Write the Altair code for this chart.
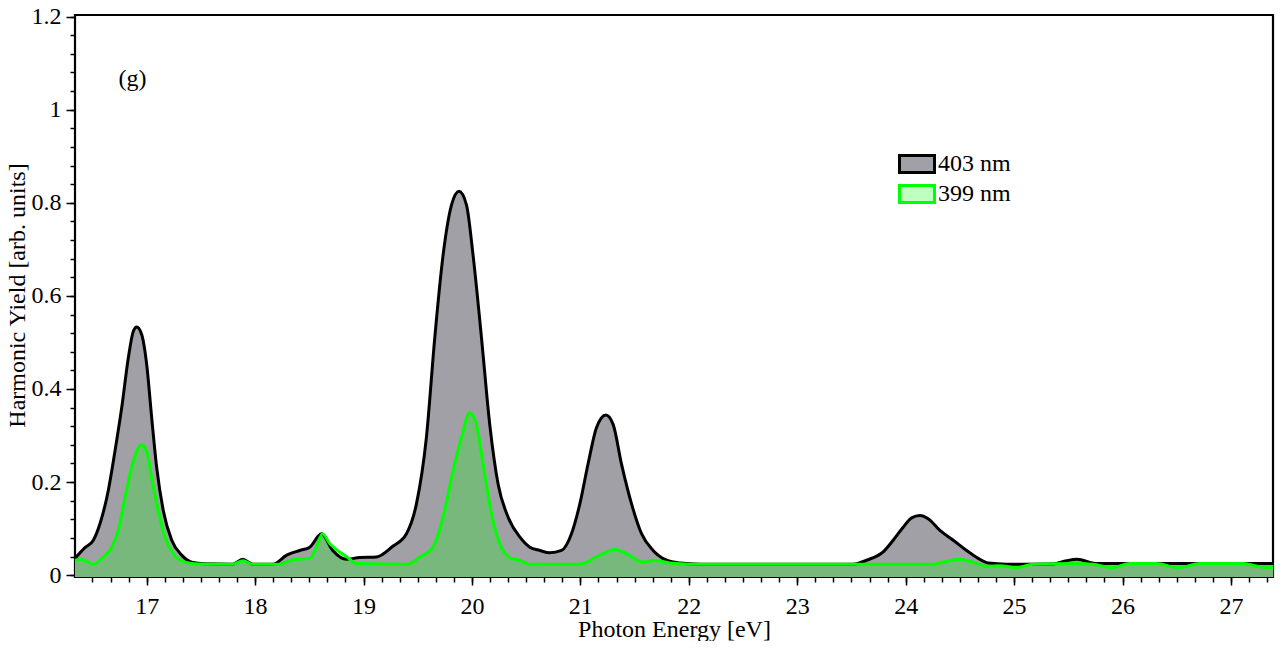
import altair as alt
import pandas as pd

# 403 nm series (photon energy [eV], yield)
x403 = [16.339, 16.431, 16.508, 16.570, 16.646, 16.708, 16.770, 16.831, 16.877, 16.908,
        16.954, 17.000, 17.046, 17.092, 17.153, 17.231, 17.323, 17.415, 17.538, 17.794,
        17.886, 17.978, 18.163, 18.292, 18.412, 18.504, 18.612, 18.716, 18.843, 18.965,
        19.119, 19.270, 19.396, 19.488, 19.580, 19.657, 19.734, 19.811, 19.881, 19.950,
        20.010, 20.088, 20.164, 20.241, 20.333, 20.441, 20.534, 20.626, 20.718, 20.826,
        20.918, 20.995, 21.071, 21.149, 21.235, 21.302, 21.379, 21.472, 21.564, 21.671,
        21.795, 21.917, 22.102, 23.516, 23.639, 23.793, 23.885, 23.977, 24.055, 24.131,
        24.208, 24.316, 24.439, 24.562, 24.669, 24.761, 24.931, 25.358, 25.484, 25.580,
        25.761, 27.390]
y403 = [0.036, 0.059, 0.075, 0.111, 0.182, 0.267, 0.360, 0.467, 0.524, 0.533,
        0.517, 0.453, 0.339, 0.232, 0.139, 0.075, 0.043, 0.028, 0.0245, 0.0235,
        0.034, 0.0235, 0.0235, 0.043, 0.053, 0.060, 0.089, 0.053, 0.034, 0.038,
        0.039, 0.062, 0.089, 0.153, 0.296, 0.510, 0.688, 0.795, 0.825, 0.795,
        0.688, 0.510, 0.324, 0.196, 0.125, 0.082, 0.060, 0.053, 0.048, 0.053,
        0.089, 0.153, 0.239, 0.317, 0.344, 0.324, 0.239, 0.153, 0.089, 0.053,
        0.032, 0.026, 0.0235, 0.0235, 0.032, 0.050, 0.075, 0.103, 0.123, 0.128,
        0.121, 0.096, 0.075, 0.053, 0.036, 0.026, 0.0235, 0.024, 0.031, 0.034,
        0.025, 0.025]

# 399 nm series
x399 = [16.339, 16.401, 16.508, 16.585, 16.677, 16.738, 16.800, 16.862, 16.908, 16.954,
        17.000, 17.046, 17.107, 17.169, 17.246, 17.353, 17.476, 17.794, 17.889, 17.978,
        18.227, 18.347, 18.504, 18.566, 18.621, 18.688, 18.750, 18.843, 18.935, 19.408,
        19.519, 19.641, 19.734, 19.826, 19.903, 19.980, 20.041, 20.103, 20.180, 20.272,
        20.364, 20.441, 20.534, 20.995, 21.149, 21.318, 21.426, 21.579, 21.687, 21.825,
        22.010, 24.254, 24.377, 24.500, 24.623, 24.747, 24.870, 25.024, 25.174, 25.577,
        25.727, 25.899, 26.068, 26.314, 26.514, 26.714, 27.111, 27.268, 27.390]
y399 = [0.032, 0.034, 0.0235, 0.036, 0.060, 0.096, 0.167, 0.232, 0.267, 0.280,
        0.267, 0.210, 0.139, 0.082, 0.046, 0.028, 0.024, 0.0235, 0.031, 0.0235,
        0.0235, 0.033, 0.036, 0.060, 0.089, 0.068, 0.055, 0.040, 0.025, 0.0235,
        0.039, 0.060, 0.125, 0.225, 0.296, 0.349, 0.324, 0.239, 0.132, 0.060,
        0.036, 0.032, 0.0235, 0.0235, 0.039, 0.055, 0.046, 0.028, 0.032, 0.026,
        0.0235, 0.0235, 0.030, 0.034, 0.028, 0.019, 0.020, 0.016, 0.0235, 0.025,
        0.0235, 0.016, 0.025, 0.025, 0.016, 0.025, 0.025, 0.018, 0.016]

series_names = ["403 nm", "399 nm"]
x_major_ticks = list(range(17, 28))
x_minor_ticks = [round(16.5 + i / 6, 4) for i in range(66)]
y_major_ticks = [0, 0.2, 0.4, 0.6, 0.8, 1.0, 1.2]
y_minor_ticks = [round(i * 0.04, 2) for i in range(31)]
panel_label = ["(g)"]
panel_label_x = [16.87]
panel_label_y = [1.065]

X_DOMAIN = [16.339, 27.388]
Y_DOMAIN = [-0.004, 1.2035]
FONT = "Liberation Serif"

df = pd.concat([
    pd.DataFrame({"E": x403, "Y": y403, "series": series_names[0]}),
    pd.DataFrame({"E": x399, "Y": y399, "series": series_names[1]}),
], ignore_index=True)

xscale = alt.Scale(domain=X_DOMAIN, nice=False, zero=False)
yscale = alt.Scale(domain=Y_DOMAIN, nice=False, zero=False)

xaxis = alt.Axis(
    orient="bottom", title="Photon Energy [eV]", values=x_major_ticks, format="d",
    tickSize=8, tickColor="black", tickWidth=1.5, domain=False, grid=False,
    labelFont=FONT, labelFontSize=24, labelColor="black", labelPadding=9,
    labelBaseline="top", labelAlign="center",
    labelOverlap=False, labelFlush=False,
    titleFont=FONT, titleFontSize=24, titleFontWeight="normal", titleColor="black",
    titleY=59, titleBaseline="alphabetic",
)
yaxis = alt.Axis(
    orient="left", title="Harmonic Yield [arb. units]", values=y_major_ticks, format="~g",
    tickSize=9, tickColor="black", tickWidth=1.5, domain=False, grid=False,
    labelFont=FONT, labelFontSize=24, labelColor="black", labelPadding=5,
    labelOverlap=False, labelFlush=False,
    titleFont=FONT, titleFontSize=24, titleFontWeight="normal", titleColor="black",
    titleX=-51, titleY=280, titleBaseline="alphabetic",
)
xaxis_minor = alt.Axis(
    orient="bottom", title="", values=x_minor_ticks, labels=False,
    tickSize=5, tickColor="black", tickWidth=1.5, domain=False, grid=False,
)
yaxis_minor = alt.Axis(
    orient="left", title="", values=y_minor_ticks, labels=False,
    tickSize=5, tickColor="black", tickWidth=1.5, domain=False, grid=False,
)

legend = alt.Legend(
    title=None, orient="none", legendX=823, legendY=134,
    symbolType="M-1,-0.49H1V0.49H-1Z", symbolSize=1225, symbolStrokeWidth=3,
    labelFont=FONT, labelFontSize=24, labelColor="black", labelOffset=2,
    rowPadding=0, clipHeight=30, symbolOpacity=1,
)

fill_scale = alt.Scale(domain=series_names, range=["#a1a0a6", "rgba(0,255,0,0.25)"])
stroke_scale = alt.Scale(domain=series_names, range=["#000000", "#00ff00"])

base = alt.Chart(df)

X_ENC = alt.X("E:Q", scale=xscale, axis=xaxis)
Y_ENC = alt.Y("Y:Q", scale=yscale, axis=yaxis, stack=None)


def area_layer(name):
    return base.transform_filter(alt.datum.series == name).mark_area(
        interpolate="monotone", opacity=1
    ).encode(
        x=X_ENC,
        y=Y_ENC,
        y2=alt.Y2Datum(Y_DOMAIN[0]),
        fill=alt.Fill("series:N", scale=fill_scale, legend=legend),
    )


def line_layer(name):
    return base.transform_filter(alt.datum.series == name).mark_line(
        interpolate="monotone", strokeWidth=3, opacity=1
    ).encode(
        x=X_ENC,
        y=Y_ENC,
        stroke=alt.Stroke("series:N", scale=stroke_scale, legend=legend),
    )


curves = alt.layer(
    area_layer(series_names[0]),
    area_layer(series_names[1]),
    line_layer(series_names[0]),
    line_layer(series_names[1]),
)

label_df = pd.DataFrame({"E": panel_label_x, "Y": panel_label_y, "t": panel_label})
label = alt.Chart(label_df).mark_text(
    font=FONT, fontSize=24, color="black", align="center", baseline="middle"
).encode(
    x=alt.X("E:Q", scale=xscale, axis=xaxis_minor),
    y=alt.Y("Y:Q", scale=yscale, axis=yaxis_minor),
    text="t:N",
)

chart = alt.layer(curves, label).resolve_axis(
    x="independent", y="independent"
).properties(
    width=1198, height=562,
    background="white",
    autosize=alt.AutoSizeParams(type="none"),
    padding={"left": 67, "top": 7, "right": 4, "bottom": 64},
).configure_view(
    stroke="black", strokeWidth=2.2
)

chart.save("out.html", embed_options={"renderer": "svg", "actions": False})
